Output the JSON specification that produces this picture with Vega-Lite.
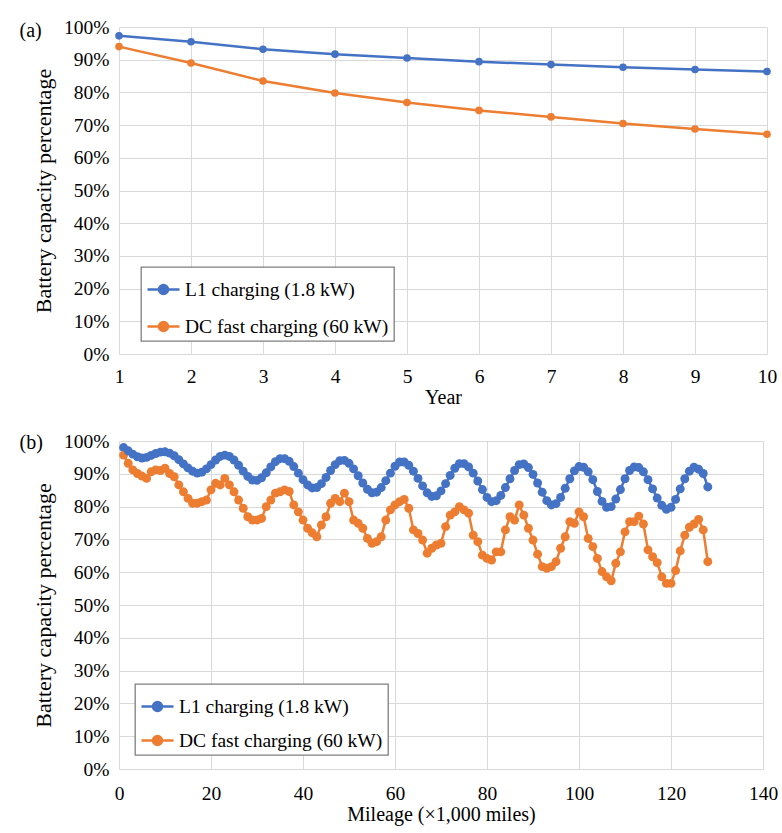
{
  "$schema": "https://vega.github.io/schema/vega-lite/v6.json",
  "background": "white",
  "padding": {"left": 19, "top": 17, "right": 8, "bottom": 3},
  "spacing": 23,
  "config": {
    "font": "Liberation Serif",
    "view": {"stroke": null},
    "axis": {
      "grid": true, "gridColor": "#d9d9d9", "gridWidth": 1, "domain": false, "ticks": false,
      "labelFont": "Liberation Serif", "labelFontSize": 19.5, "labelColor": "#000", "labelPadding": 10,
      "titleFont": "Liberation Serif", "titleFontSize": 20, "titleFontWeight": "normal", "titleColor": "#000"
    },
    "axisX": {"titlePadding": 2, "labelPadding": 13, "labelFlush": false, "labelFont": "Liberation Serif", "titleFont": "Liberation Serif"},
    "axisY": {"titlePadding": 8, "titleFontSize": 22, "labelFont": "Liberation Serif", "titleFont": "Liberation Serif"},
    "legend": {
      "strokeColor": "#7f7f7f", "strokeWidth": 1.3, "fillColor": "white", "padding": 5,
      "labelFont": "Liberation Serif", "labelFontSize": 19.5, "labelColor": "#000", "labelOffset": 4, "labelLimit": 400,
      "symbolType": "M-1,0L1,0M-0.28,0A0.28,0.28,0,1,0,0.28,0A0.28,0.28,0,1,0,-0.28,0Z",
      "symbolSize": 1024, "symbolStrokeWidth": 2.5, "rowPadding": 10
    },
    "title": {"font": "Liberation Serif", "fontSize": 20, "fontWeight": "normal", "color": "#000"}
  },
  "datasets": {
    "a": [
      {"year": 1, "L1": 97.3, "DC": 94.0},
      {"year": 2, "L1": 95.5, "DC": 89.0},
      {"year": 3, "L1": 93.2, "DC": 83.5},
      {"year": 4, "L1": 91.7, "DC": 79.8},
      {"year": 5, "L1": 90.5, "DC": 76.9},
      {"year": 6, "L1": 89.4, "DC": 74.5},
      {"year": 7, "L1": 88.5, "DC": 72.5},
      {"year": 8, "L1": 87.7, "DC": 70.5},
      {"year": 9, "L1": 87.0, "DC": 68.8},
      {"year": 10, "L1": 86.4, "DC": 67.2}
    ],
    "b": [
      {"m": 1, "L1": 98.0, "DC": 95.7},
      {"m": 2, "L1": 97.0, "DC": 93.2},
      {"m": 3, "L1": 96.0, "DC": 91.2},
      {"m": 4, "L1": 95.2, "DC": 90.1},
      {"m": 5, "L1": 94.8, "DC": 89.3},
      {"m": 6, "L1": 95.0, "DC": 88.6},
      {"m": 7, "L1": 95.6, "DC": 90.6},
      {"m": 8, "L1": 96.2, "DC": 91.2},
      {"m": 9, "L1": 96.6, "DC": 91.0},
      {"m": 10, "L1": 96.7, "DC": 91.7},
      {"m": 11, "L1": 96.3, "DC": 90.1},
      {"m": 12, "L1": 95.5, "DC": 89.1},
      {"m": 13, "L1": 94.3, "DC": 86.6},
      {"m": 14, "L1": 93.0, "DC": 84.5},
      {"m": 15, "L1": 91.8, "DC": 82.5},
      {"m": 16, "L1": 90.8, "DC": 81.0},
      {"m": 17, "L1": 90.2, "DC": 81.0},
      {"m": 18, "L1": 90.5, "DC": 81.5},
      {"m": 19, "L1": 91.5, "DC": 82.0},
      {"m": 20, "L1": 92.8, "DC": 85.1},
      {"m": 21, "L1": 94.2, "DC": 87.1},
      {"m": 22, "L1": 95.3, "DC": 86.6},
      {"m": 23, "L1": 95.7, "DC": 88.6},
      {"m": 24, "L1": 95.3, "DC": 86.6},
      {"m": 25, "L1": 94.2, "DC": 84.5},
      {"m": 26, "L1": 92.6, "DC": 82.0},
      {"m": 27, "L1": 90.8, "DC": 79.5},
      {"m": 28, "L1": 89.2, "DC": 76.9},
      {"m": 29, "L1": 88.1, "DC": 75.9},
      {"m": 30, "L1": 88.0, "DC": 75.9},
      {"m": 31, "L1": 88.8, "DC": 76.4},
      {"m": 32, "L1": 90.3, "DC": 80.0},
      {"m": 33, "L1": 92.1, "DC": 82.0},
      {"m": 34, "L1": 93.7, "DC": 84.1},
      {"m": 35, "L1": 94.6, "DC": 84.5},
      {"m": 36, "L1": 94.6, "DC": 85.1},
      {"m": 37, "L1": 93.8, "DC": 84.6},
      {"m": 38, "L1": 92.2, "DC": 80.5},
      {"m": 39, "L1": 90.2, "DC": 78.4},
      {"m": 40, "L1": 88.2, "DC": 75.9},
      {"m": 41, "L1": 86.6, "DC": 73.4},
      {"m": 42, "L1": 85.7, "DC": 72.0},
      {"m": 43, "L1": 85.8, "DC": 70.8},
      {"m": 44, "L1": 87.0, "DC": 74.4},
      {"m": 45, "L1": 88.9, "DC": 76.9},
      {"m": 46, "L1": 91.0, "DC": 81.0},
      {"m": 47, "L1": 92.8, "DC": 82.5},
      {"m": 48, "L1": 94.0, "DC": 81.5},
      {"m": 49, "L1": 94.1, "DC": 84.1},
      {"m": 50, "L1": 93.2, "DC": 81.5},
      {"m": 51, "L1": 91.5, "DC": 75.9},
      {"m": 52, "L1": 89.4, "DC": 74.9},
      {"m": 53, "L1": 87.2, "DC": 73.4},
      {"m": 54, "L1": 85.3, "DC": 70.3},
      {"m": 55, "L1": 84.2, "DC": 68.8},
      {"m": 56, "L1": 84.4, "DC": 69.3},
      {"m": 57, "L1": 85.8, "DC": 70.8},
      {"m": 58, "L1": 87.9, "DC": 75.9},
      {"m": 59, "L1": 90.2, "DC": 79.0},
      {"m": 60, "L1": 92.3, "DC": 80.5},
      {"m": 61, "L1": 93.6, "DC": 81.5},
      {"m": 62, "L1": 93.6, "DC": 82.2},
      {"m": 63, "L1": 92.6, "DC": 79.5},
      {"m": 64, "L1": 90.8, "DC": 72.9},
      {"m": 65, "L1": 88.6, "DC": 71.8},
      {"m": 66, "L1": 86.3, "DC": 69.8},
      {"m": 67, "L1": 84.2, "DC": 65.8},
      {"m": 68, "L1": 83.1, "DC": 67.3},
      {"m": 69, "L1": 83.3, "DC": 68.3},
      {"m": 70, "L1": 84.8, "DC": 68.8},
      {"m": 71, "L1": 87.0, "DC": 73.9},
      {"m": 72, "L1": 89.5, "DC": 77.4},
      {"m": 73, "L1": 91.7, "DC": 78.4},
      {"m": 74, "L1": 93.1, "DC": 80.0},
      {"m": 75, "L1": 93.1, "DC": 79.0},
      {"m": 76, "L1": 92.1, "DC": 78.0},
      {"m": 77, "L1": 90.2, "DC": 71.3},
      {"m": 78, "L1": 87.8, "DC": 69.3},
      {"m": 79, "L1": 85.2, "DC": 65.2},
      {"m": 80, "L1": 82.8, "DC": 64.2},
      {"m": 81, "L1": 81.5, "DC": 63.7},
      {"m": 82, "L1": 81.8, "DC": 66.2},
      {"m": 83, "L1": 83.4, "DC": 66.2},
      {"m": 84, "L1": 85.8, "DC": 72.9},
      {"m": 85, "L1": 88.5, "DC": 76.9},
      {"m": 86, "L1": 91.0, "DC": 75.9},
      {"m": 87, "L1": 92.8, "DC": 80.5},
      {"m": 88, "L1": 93.0, "DC": 77.4},
      {"m": 89, "L1": 91.9, "DC": 73.4},
      {"m": 90, "L1": 89.8, "DC": 69.8},
      {"m": 91, "L1": 87.2, "DC": 65.5},
      {"m": 92, "L1": 84.4, "DC": 61.7},
      {"m": 93, "L1": 81.8, "DC": 61.2},
      {"m": 94, "L1": 80.5, "DC": 61.7},
      {"m": 95, "L1": 80.9, "DC": 63.2},
      {"m": 96, "L1": 82.8, "DC": 67.3},
      {"m": 97, "L1": 85.6, "DC": 70.8},
      {"m": 98, "L1": 88.5, "DC": 75.4},
      {"m": 99, "L1": 90.9, "DC": 74.9},
      {"m": 100, "L1": 92.2, "DC": 78.4},
      {"m": 101, "L1": 92.0, "DC": 76.9},
      {"m": 102, "L1": 90.6, "DC": 70.3},
      {"m": 103, "L1": 88.2, "DC": 67.8},
      {"m": 104, "L1": 84.6, "DC": 64.2},
      {"m": 105, "L1": 81.6, "DC": 60.2},
      {"m": 106, "L1": 79.8, "DC": 58.6},
      {"m": 107, "L1": 80.0, "DC": 57.4},
      {"m": 108, "L1": 82.3, "DC": 62.7},
      {"m": 109, "L1": 85.2, "DC": 66.2},
      {"m": 110, "L1": 88.5, "DC": 72.3},
      {"m": 111, "L1": 91.0, "DC": 75.4},
      {"m": 112, "L1": 92.1, "DC": 75.4},
      {"m": 113, "L1": 91.9, "DC": 77.1},
      {"m": 114, "L1": 90.6, "DC": 74.7},
      {"m": 115, "L1": 88.2, "DC": 66.8},
      {"m": 116, "L1": 85.4, "DC": 64.7},
      {"m": 117, "L1": 82.6, "DC": 62.9},
      {"m": 118, "L1": 80.4, "DC": 58.6},
      {"m": 119, "L1": 79.2, "DC": 56.6},
      {"m": 120, "L1": 79.8, "DC": 56.6},
      {"m": 121, "L1": 82.2, "DC": 60.5},
      {"m": 122, "L1": 85.4, "DC": 66.5},
      {"m": 123, "L1": 88.5, "DC": 71.3},
      {"m": 124, "L1": 90.8, "DC": 73.7},
      {"m": 125, "L1": 92.0, "DC": 74.7},
      {"m": 126, "L1": 91.4, "DC": 76.1},
      {"m": 127, "L1": 90.1, "DC": 72.9},
      {"m": 128, "L1": 86.0, "DC": 63.2}
    ]
  },
  "resolve": {
    "scale": {"color": "independent"},
    "legend": {"color": "independent"}
  },
  "vconcat": [
    {
      "width": 648, "height": 327,
      "title": {"text": "(a)", "anchor": "start", "frame": "bounds", "orient": "top", "offset": 0, "dx": -13, "dy": 34, "baseline": "middle"},
      "data": {"name": "a"},
      "transform": [{"fold": ["L1", "DC"], "as": ["s", "v"]}],
      "encoding": {
        "x": {"field": "year", "type": "quantitative", "scale": {"domain": [1, 10], "nice": false},
              "axis": {"values": [1, 2, 3, 4, 5, 6, 7, 8, 9, 10], "title": "Year", "labelFont": "Liberation Serif", "titleFont": "Liberation Serif"}},
        "y": {"field": "v", "type": "quantitative", "scale": {"domain": [0, 100], "nice": false},
              "axis": {"values": [0, 10, 20, 30, 40, 50, 60, 70, 80, 90, 100], "labelExpr": "datum.value + '%'", "title": "Battery capacity percentage", "labelFont": "Liberation Serif", "titleFont": "Liberation Serif"}},
        "color": {"field": "s", "type": "nominal", "scale": {"domain": ["L1", "DC"], "range": ["#4472C4", "#ED7D31"]},
                  "legend": {"title": null, "orient": "none", "legendX": 22, "legendY": 240, "rowPadding": 10,
                             "labelExpr": "datum.value == 'L1' ? 'L1 charging (1.8 kW)' : 'DC fast charging (60 kW)'",
                             "encode": {"symbols": {"update": {
                               "fill": {"signal": "datum.value == 'L1' ? '#4472C4' : '#ED7D31'"},
                               "stroke": {"signal": "datum.value == 'L1' ? '#4472C4' : '#ED7D31'"},
                               "strokeWidth": {"value": 2.5}, "opacity": {"value": 1}}}}}}
      },
      "layer": [
        {"mark": {"type": "line", "strokeWidth": 2.5}},
        {"mark": {"type": "point", "filled": true, "size": 58, "opacity": 1}}
      ]
    },
    {
      "width": 644, "height": 328,
      "title": {"text": "(b)", "anchor": "start", "frame": "bounds", "orient": "top", "offset": 0, "dx": -13, "dy": 32, "baseline": "middle"},
      "data": {"name": "b"},
      "transform": [{"fold": ["L1", "DC"], "as": ["s", "v"]}],
      "encoding": {
        "x": {"field": "m", "type": "quantitative", "scale": {"domain": [0, 140], "nice": false},
              "axis": {"values": [0, 20, 40, 60, 80, 100, 120, 140], "title": "Mileage (×1,000 miles)", "labelPadding": 15, "labelFont": "Liberation Serif", "titleFont": "Liberation Serif"}},
        "y": {"field": "v", "type": "quantitative", "scale": {"domain": [0, 100], "nice": false},
              "axis": {"values": [0, 10, 20, 30, 40, 50, 60, 70, 80, 90, 100], "labelExpr": "datum.value + '%'", "title": "Battery capacity percentage", "labelFont": "Liberation Serif", "titleFont": "Liberation Serif"}},
        "color": {"field": "s", "type": "nominal", "scale": {"domain": ["L1", "DC"], "range": ["#4472C4", "#ED7D31"]},
                  "legend": {"title": null, "orient": "none", "legendX": 16, "legendY": 243, "rowPadding": 7,
                             "labelExpr": "datum.value == 'L1' ? 'L1 charging (1.8 kW)' : 'DC fast charging (60 kW)'",
                             "encode": {"symbols": {"update": {
                               "fill": {"signal": "datum.value == 'L1' ? '#4472C4' : '#ED7D31'"},
                               "stroke": {"signal": "datum.value == 'L1' ? '#4472C4' : '#ED7D31'"},
                               "strokeWidth": {"value": 2.5}, "opacity": {"value": 1}}}}}}
      },
      "layer": [
        {"mark": {"type": "line", "strokeWidth": 2.5}},
        {"mark": {"type": "point", "filled": true, "size": 80, "opacity": 1}}
      ]
    }
  ]
}
